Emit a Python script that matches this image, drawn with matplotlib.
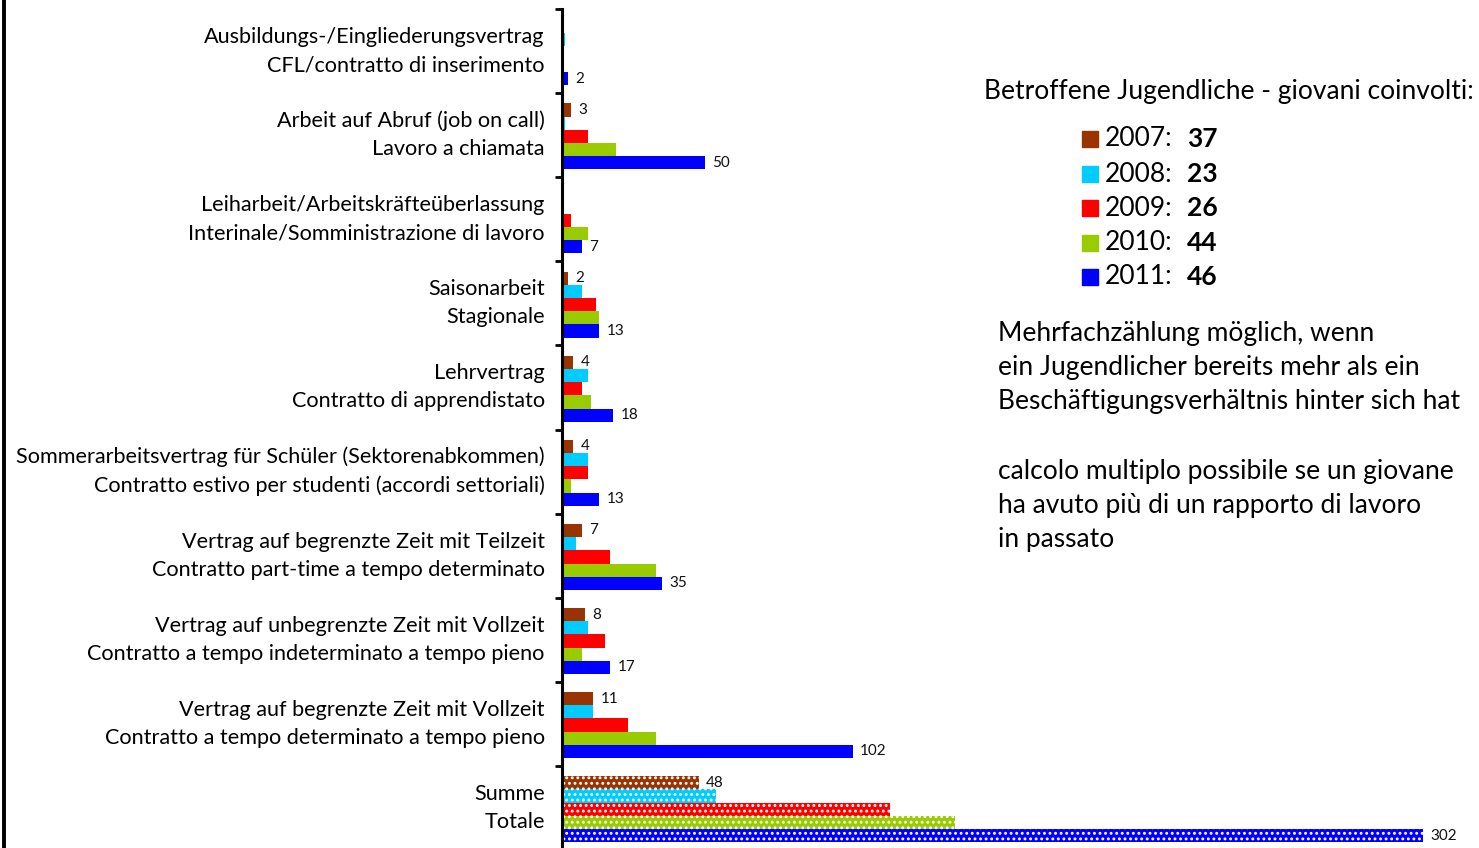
import matplotlib
matplotlib.use("Agg")
import matplotlib.pyplot as plt
from matplotlib.patches import Rectangle
import numpy as np

plt.rcParams['font.family'] = ['Lato', 'DejaVu Sans']
plt.rcParams['hatch.linewidth'] = 1.3

categories = [
    "Ausbildungs-/Eingliederungsvertrag\nCFL/contratto di inserimento",
    "Arbeit auf Abruf (job on call)\nLavoro a chiamata",
    "Leiharbeit/Arbeitskräfteüberlassung\nInterinale/Somministrazione di lavoro",
    "Saisonarbeit\nStagionale",
    "Lehrvertrag\nContratto di apprendistato",
    "Sommerarbeitsvertrag für Schüler (Sektorenabkommen)\nContratto estivo per studenti (accordi settoriali)",
    "Vertrag auf begrenzte Zeit mit Teilzeit\nContratto part-time a tempo determinato",
    "Vertrag auf unbegrenzte Zeit mit Vollzeit\nContratto a tempo indeterminato a tempo pieno",
    "Vertrag auf begrenzte Zeit mit Vollzeit\nContratto a tempo determinato a tempo pieno",
    "Summe\nTotale",
]
years = ["2007", "2008", "2009", "2010", "2011"]
v2007 = [0, 3, 0, 2, 4, 4, 7, 8, 11, 48]
v2008 = [1, 1, 0, 7, 9, 9, 5, 9, 11, 54]
v2009 = [0, 9, 3, 12, 7, 9, 17, 15, 23, 115]
v2010 = [0, 19, 9, 13, 10, 3, 33, 7, 33, 138]
v2011 = [2, 50, 7, 13, 18, 13, 35, 17, 102, 302]
youth_counts = [37, 23, 26, 44, 46]
colors = ["#993300", "#00CCFF", "#FF0000", "#99CC00", "#0000FF"]
series = [v2007, v2008, v2009, v2010, v2011]
labeled = {0, 4}

W, H = 1479, 848
fig = plt.figure(figsize=(W / 100, H / 100), dpi=100)
ax_left = 562 / W
ax_top = 1 - 9 / H
ax_bottom = 1 - 850 / H
ax = fig.add_axes([ax_left, ax_bottom, 1 - ax_left, ax_top - ax_bottom])
px_per_unit = (1423 - 562) / 302
ax.set_xlim(0, (W - 562) / px_per_unit)
n = len(categories)
ax.set_ylim(n, 0)

bh = 13.2 / 84.1
top_gap = 10.3 / 84.1
for i in range(n):
    for j, vals in enumerate(series):
        y = i + top_gap + bh * (j + 0.5)
        v = vals[i]
        if i == n - 1:
            ax.barh(y, v, height=bh, color=colors[j], edgecolor='white',
                    linewidth=0, hatch='...')
        else:
            if v > 0:
                ax.barh(y, v, height=bh, color=colors[j], linewidth=0)
        if j in labeled and v > 0:
            ax.text(v + 2.6, y, str(v), va='center', ha='left', fontsize=11,
                    color='#111111')

for s in ['top', 'right', 'bottom']:
    ax.spines[s].set_visible(False)
ax.spines['left'].set_linewidth(2.2)
ax.set_xticks([])
ax.set_yticks(np.arange(0, n + 1))
ax.set_yticklabels([])
ax.tick_params(axis='y', which='major', length=5, width=2, direction='out')
ax.set_yticks(np.arange(n) + 0.5, minor=True)
ax.set_yticklabels(categories, minor=True, fontsize=15.6, linespacing=1.5,
                   multialignment='right')
for t in ax.get_yticklabels(minor=True):
    t.set_va('center')
ax.tick_params(axis='y', which='minor', length=0, pad=12.5)

# right-side texts
def fx(px):
    return px / W

def fy(py):
    return 1 - py / H

FS = 19
fig.text(fx(984), fy(91), "Betroffene Jugendliche - giovani coinvolti:",
         fontsize=FS, va='center', ha='left')
row_y = [139, 174, 208, 243, 277]
for k in range(5):
    fig.patches.append(Rectangle((fx(1082), fy(row_y[k] + 8)), 16 / W, 16 / H,
                                 transform=fig.transFigure, color=colors[k]))
    fig.text(fx(1105), fy(row_y[k]), years[k] + ":", fontsize=FS,
             va='center', ha='left')
    fig.text(fx(1187), fy(row_y[k]), str(youth_counts[k]), fontsize=FS,
             va='center', ha='left', fontweight='bold')

para1 = ["Mehrfachzählung möglich, wenn",
         "ein Jugendlicher bereits mehr als ein",
         "Beschäftigungsverhältnis hinter sich hat"]
para2 = ["calcolo multiplo possibile se un giovane",
         "ha avuto più di un rapporto di lavoro",
         "in passato"]
for k, line in enumerate(para1):
    fig.text(fx(998), fy(333 + 34.5 * k), line, fontsize=FS, va='center', ha='left')
for k, line in enumerate(para2):
    fig.text(fx(998), fy(471 + 34.5 * k), line, fontsize=FS, va='center', ha='left')

# left figure border
fig.add_artist(plt.Line2D([fx(3.5), fx(3.5)], [0, 1], transform=fig.transFigure,
                          color='black', linewidth=2.8))

fig.savefig("out.png", dpi=100)
